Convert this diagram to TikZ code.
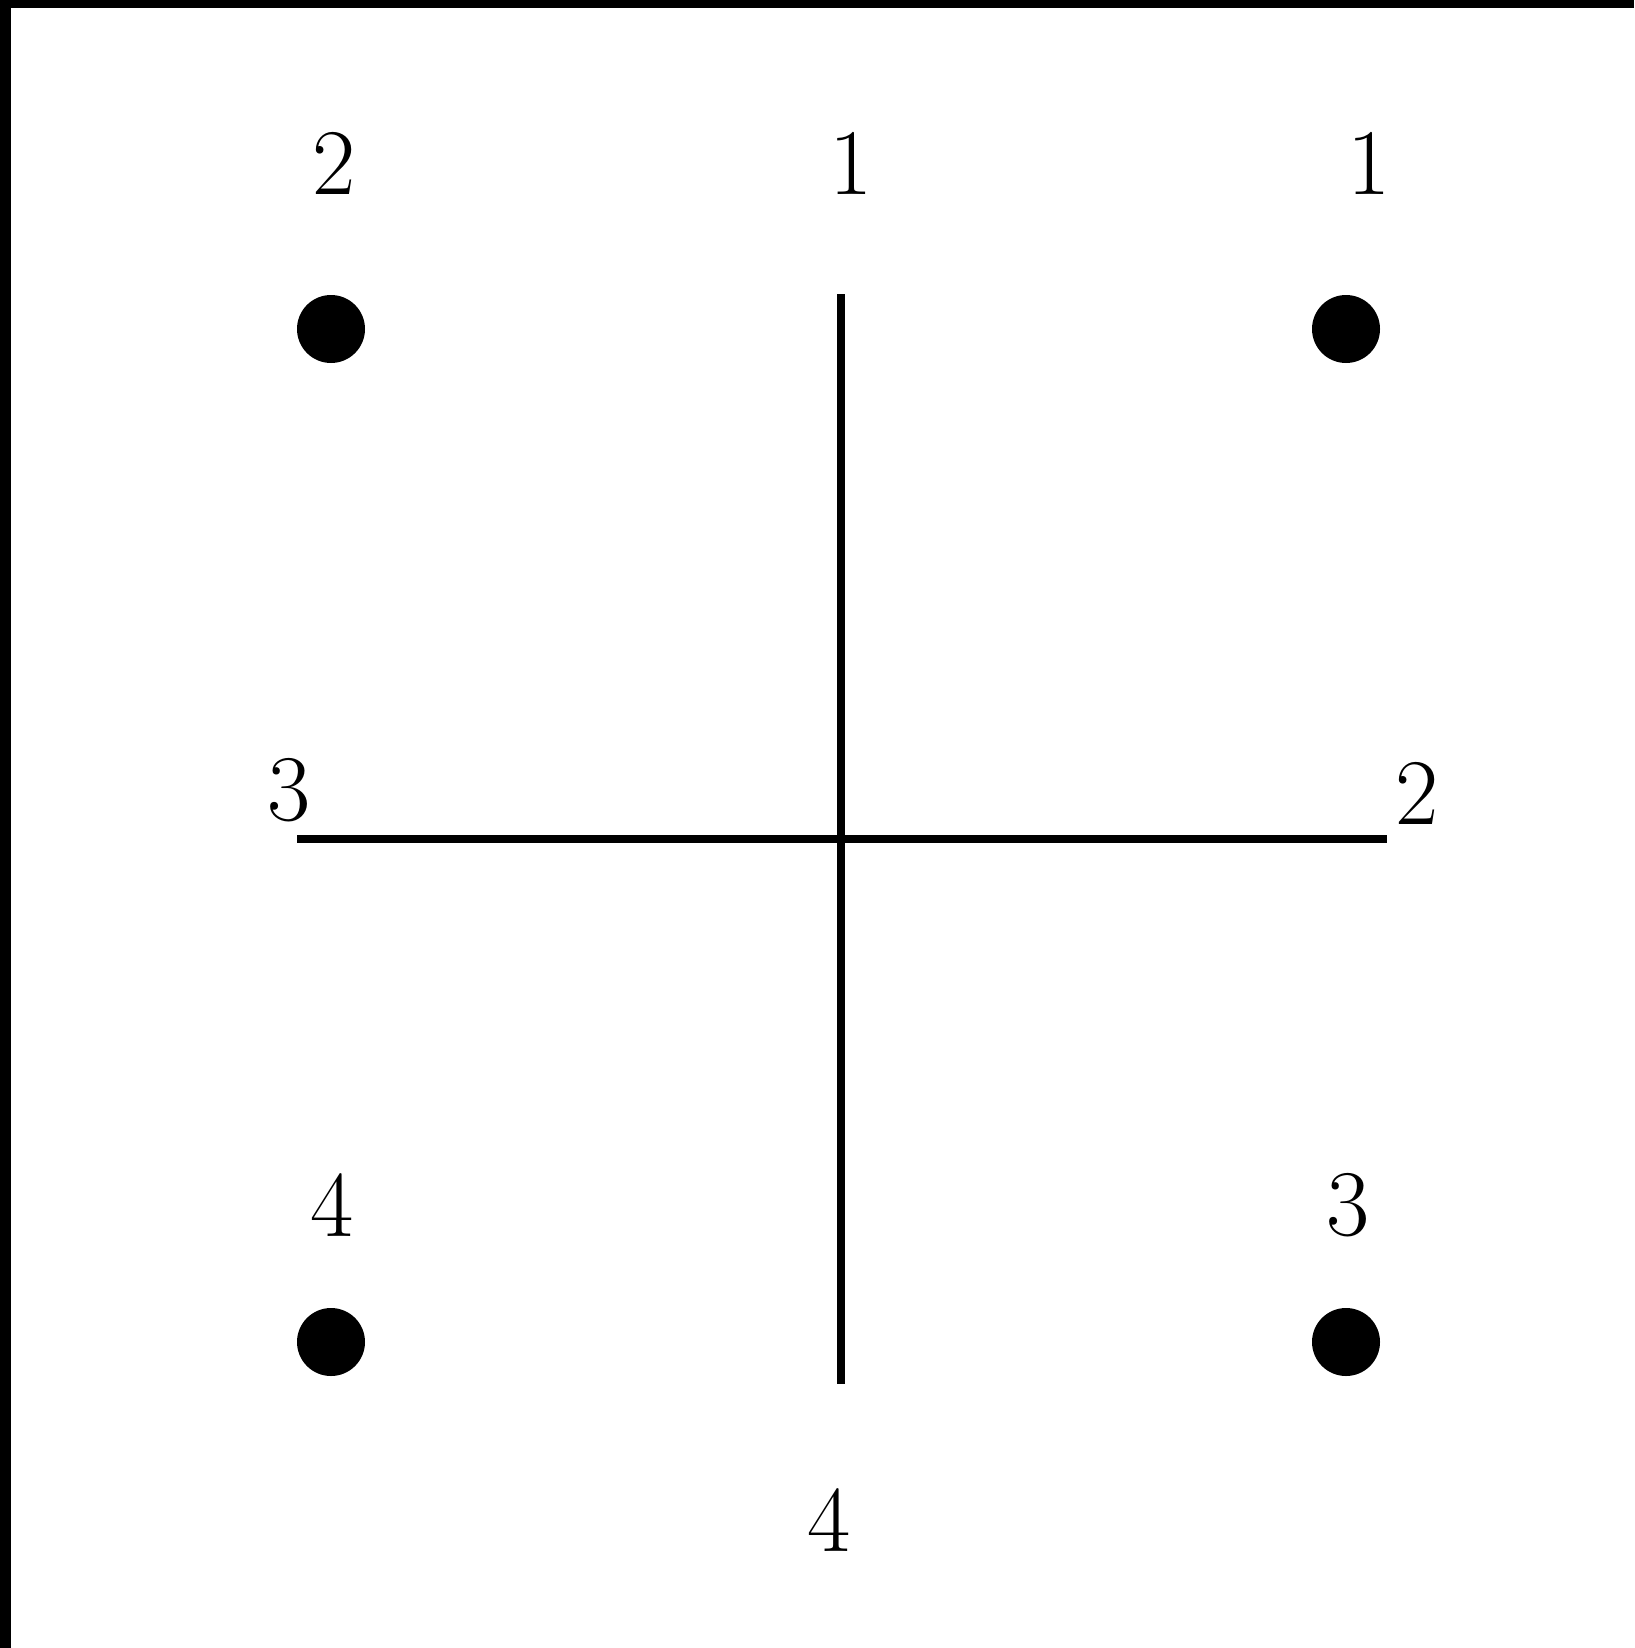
\documentclass[tikz,border=0pt]{standalone}
\begin{document}
\begin{tikzpicture}[x=0.5pt,y=-0.5pt,
  dot/.style={circle,fill=black,inner sep=0pt,minimum size=34pt},
  lbl/.style={inner sep=0pt,font=\fontsize{47}{50}\selectfont},
  bar/.style={line width=3.8pt}]
\fill[black] (0,0) rectangle (1634,1648);
\fill[white] (11,8) rectangle (1634,1648);
\useasboundingbox (0,0) rectangle (1634,1648);
\node[dot] (tl) at (331,329) {};
\node[dot] (tr) at (1346,329) {};
\node[dot] (bl) at (331,1342) {};
\node[dot] (br) at (1346,1342) {};
\node[lbl] (t1) at (334,163) {2};
\node[lbl] (t2) at (851,163) {1};
\node[lbl] (t3) at (1369,163) {1};
\node[lbl] (t4) at (289,790) {3};
\node[lbl] (t5) at (1417,793) {2};
\node[lbl] (t6) at (332,1205) {4};
\node[lbl] (t7) at (1348,1205) {3};
\node[lbl] (t8) at (829,1520) {4};
\coordinate (vtop) at (841,294);
\coordinate (vbot) at (841,1384);
\coordinate (hl) at (297,839);
\coordinate (hr) at (1387,839);
\draw[bar] (vtop) -- (vbot);
\draw[bar] (hl) -- (hr);
\end{tikzpicture}
\end{document}
